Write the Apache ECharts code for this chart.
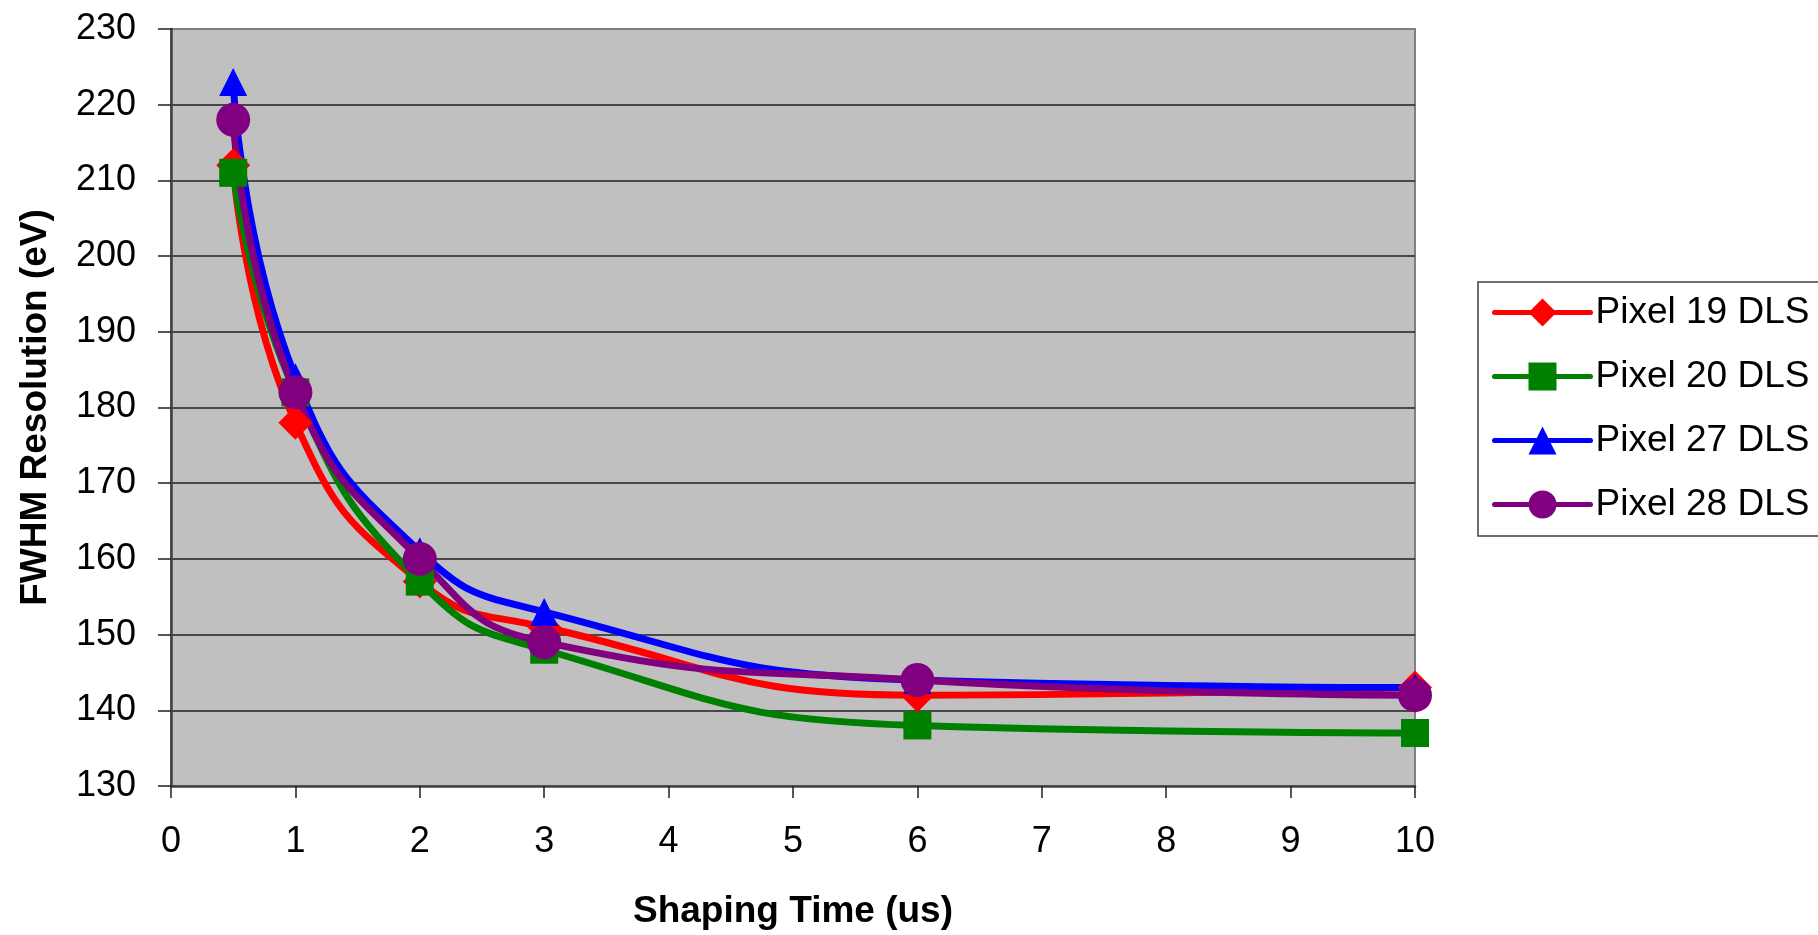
<!DOCTYPE html>
<html>
<head>
<meta charset="utf-8">
<script src="https://cdn.jsdelivr.net/npm/echarts@6/dist/echarts.min.js"></script>
<style>
html,body{margin:0;padding:0;background:#fff;}
#chart{width:1818px;height:935px;}
</style>
</head>
<body>
<div id="chart"></div>
<script>
var shapingTimes = [0.5, 1, 2, 3, 6, 10];
var pixel19 = [212, 178, 157, 151, 142, 143];
var pixel20 = [211, 182, 157, 148, 138, 137];
var pixel27 = [223, 184, 161, 153, 144, 143];
var pixel28 = [218, 182, 160, 149, 144, 142];
var seriesNames = ['Pixel 19 DLS', 'Pixel 20 DLS', 'Pixel 27 DLS', 'Pixel 28 DLS'];
var seriesValues = [pixel19, pixel20, pixel27, pixel28];
var seriesColors = ['#FF0000', '#008000', '#0000FF', '#800080'];
var seriesSymbols = ['diamond', 'rect', 'triangle', 'circle'];
var seriesSymbolSizes = [34, 28, 28, 34];

var FONT = '"Liberation Sans", Arial, sans-serif';

function pairs(xs, ys) {
  return xs.map(function (x, i) { return [x, ys[i]]; });
}

var series = seriesNames.map(function (name, i) {
  return {
    name: name,
    type: 'line',
    data: pairs(shapingTimes, seriesValues[i]),
    smooth: 0.5,
    symbol: seriesSymbols[i],
    symbolSize: seriesSymbolSizes[i],
    showAllSymbol: true,
    color: seriesColors[i],
    lineStyle: { color: seriesColors[i], width: 7, cap: 'round', join: 'round' },
    itemStyle: { color: seriesColors[i], borderWidth: 0 },
    emphasis: { disabled: true },
    animation: false
  };
});

var chart = echarts.init(document.getElementById('chart'), null, { renderer: 'canvas' });
chart.setOption({
  animation: false,
  backgroundColor: '#ffffff',
  textStyle: { fontFamily: FONT, color: '#000' },
  grid: {
    left: 171, right: 403, top: 29, bottom: 147,
    show: true,
    backgroundColor: '#C0C0C0',
    borderColor: '#808080',
    borderWidth: 2
  },
  xAxis: {
    type: 'value',
    min: 0, max: 10, interval: 1,
    name: 'Shaping Time (us)',
    nameLocation: 'middle',
    nameGap: 107,
    nameTextStyle: { fontFamily: FONT, fontSize: 37, fontWeight: 'bold', color: '#000' },
    axisLine: { show: true, onZero: false, lineStyle: { color: '#404040', width: 2.5 } },
    axisTick: { show: true, inside: false, length: 12, lineStyle: { color: '#202020', width: 1.5 } },
    axisLabel: { fontFamily: FONT, fontSize: 36, color: '#000', margin: 38 },
    splitLine: { show: false }
  },
  yAxis: {
    type: 'value',
    min: 130, max: 230, interval: 10,
    name: 'FWHM Resolution (eV)',
    nameLocation: 'middle',
    nameRotate: 90,
    nameGap: 117,
    nameTextStyle: { fontFamily: FONT, fontSize: 37, fontWeight: 'bold', color: '#000' },
    axisLine: { show: true, onZero: false, lineStyle: { color: '#404040', width: 2.5 } },
    axisTick: { show: true, inside: false, length: 13, lineStyle: { color: '#202020', width: 1.5 } },
    axisLabel: { fontFamily: FONT, fontSize: 36, color: '#000', margin: 35 },
    splitLine: { show: true, showMinLine: false, showMaxLine: false, lineStyle: { color: '#202020', width: 1.5 } }
  },
  legend: {
    orient: 'vertical',
    left: 1478,
    top: 282,
    padding: [12, 60, 13, 14],
    itemGap: 27,
    itemWidth: 96,
    itemHeight: 35,
    borderColor: '#404040',
    borderWidth: 1.5,
    backgroundColor: '#ffffff',
    lineStyle: { width: 5, cap: 'round' },
    textStyle: { fontFamily: FONT, fontSize: 37, color: '#000' },
    data: seriesNames,
    selectedMode: false
  },
  series: series
});
</script>
</body>
</html>
